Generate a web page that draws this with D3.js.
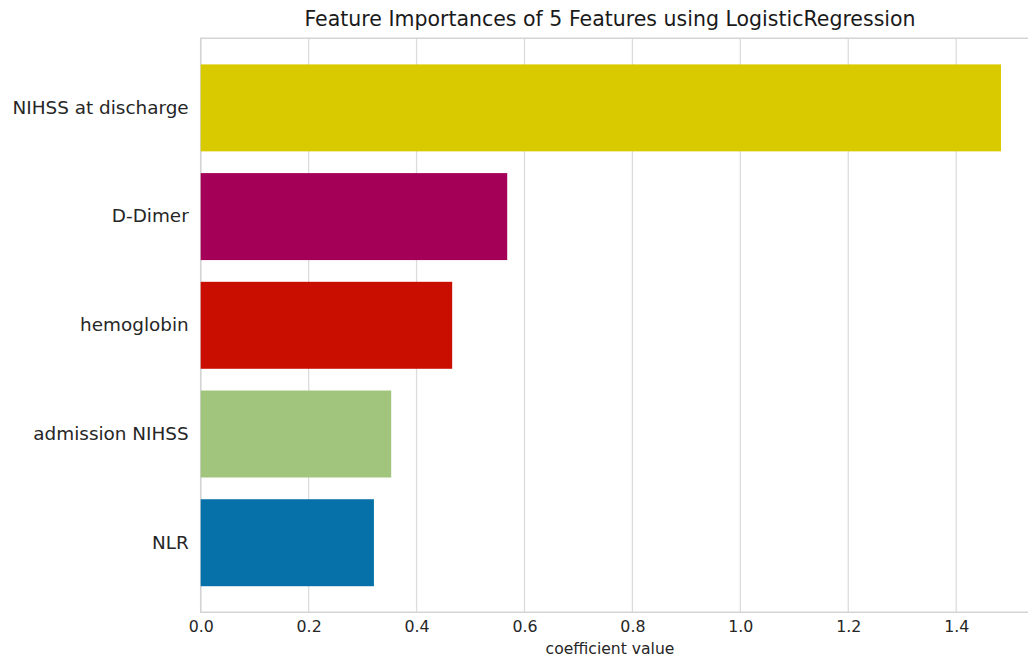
<!DOCTYPE html>
<html>
<head>
<meta charset="utf-8">
<script src="https://cdn.jsdelivr.net/npm/d3@7"></script>
<style>
  html, body { margin: 0; padding: 0; background: #ffffff; overflow: hidden; }
  svg { display: block; font-family: "DejaVu Sans", Verdana, sans-serif; }
</style>
</head>
<body>
<svg id="chart" width="1028" height="661"></svg>
<script>
// Feature names, top to bottom
const features = ["NIHSS at discharge", "D-Dimer", "hemoglobin", "admission NIHSS", "NLR"];
// Coefficient values for each feature
const coefficients = [1.483, 0.568, 0.466, 0.353, 0.321];
// Bar colours for each feature
const barColors = ["#d9ca00", "#a50058", "#c90e00", "#a1c57c", "#0671a8"];
// X axis tick values
const xTicks = [0.0, 0.2, 0.4, 0.6, 0.8, 1.0, 1.2, 1.4];

const titleText = "Feature Importances of 5 Features using LogisticRegression";
const xLabelText = "coefficient value";

const svg = d3.select("#chart");

const plot = { left: 200.7, right: 1041, top: 38.3, bottom: 612.3 };
const textCenter = 610;

const x = d3.scaleLinear()
  .domain([0, d3.max(coefficients) * 1.05])
  .range([plot.left, plot.right]);

const y = d3.scaleBand()
  .domain(features)
  .range([plot.top, plot.bottom])
  .paddingInner(0.2)
  .paddingOuter(0.24);

// vertical grid lines
svg.append("g")
  .selectAll("line")
  .data(xTicks)
  .join("line")
  .attr("x1", d => x(d)).attr("x2", d => x(d))
  .attr("y1", plot.top).attr("y2", plot.bottom)
  .attr("stroke", "#dcdcdc")
  .attr("stroke-width", 1.3);

// frame
svg.append("path")
  .attr("d", `M${plot.right},${plot.top}H${plot.left}V${plot.bottom}H${plot.right}`)
  .attr("fill", "none")
  .attr("stroke", "#d4d4d4")
  .attr("stroke-width", 1.5);

// bars
svg.append("g")
  .selectAll("rect")
  .data(features)
  .join("rect")
  .attr("x", x(0))
  .attr("y", d => y(d))
  .attr("width", (d, i) => x(coefficients[i]) - x(0))
  .attr("height", y.bandwidth())
  .attr("fill", (d, i) => barColors[i]);

// x axis
const xAxis = svg.append("g")
  .attr("transform", `translate(0,${plot.bottom})`)
  .call(d3.axisBottom(x).tickValues(xTicks).tickFormat(d3.format(".1f")).tickSize(0).tickPadding(8));
xAxis.select(".domain").remove();
xAxis.selectAll("text")
  .attr("font-size", "15.8px")
  .attr("fill", "#262626")
  .attr("font-family", "DejaVu Sans, sans-serif");

// y axis
const yAxis = svg.append("g")
  .attr("transform", `translate(${plot.left},0)`)
  .call(d3.axisLeft(y).tickSize(0).tickPadding(12));
yAxis.select(".domain").remove();
yAxis.selectAll("text")
  .attr("font-size", "18.4px")
  .attr("fill", "#262626")
  .attr("font-family", "DejaVu Sans, sans-serif");

// title
svg.append("text")
  .attr("x", textCenter)
  .attr("y", 25.7)
  .attr("text-anchor", "middle")
  .attr("font-size", "20.5px")
  .attr("fill", "#1a1a1a")
  .text(titleText);

// x axis label
svg.append("text")
  .attr("x", textCenter)
  .attr("y", 654)
  .attr("text-anchor", "middle")
  .attr("font-size", "15.6px")
  .attr("fill", "#262626")
  .text(xLabelText);
</script>
</body>
</html>
